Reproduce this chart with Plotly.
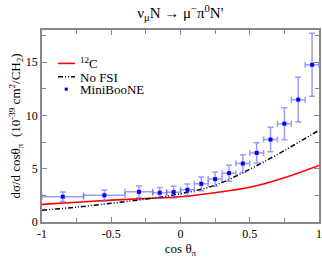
import plotly.graph_objects as go

# MiniBooNE data
data_x = [-0.85, -0.55, -0.3, -0.15, -0.05, 0.05, 0.15, 0.25, 0.35, 0.45, 0.55, 0.65, 0.75, 0.85, 0.95]
data_xerr = [0.15, 0.15, 0.1, 0.05, 0.05, 0.05, 0.05, 0.05, 0.05, 0.05, 0.05, 0.05, 0.05, 0.05, 0.05]
data_y = [2.37, 2.50, 2.83, 2.74, 2.80, 3.02, 3.58, 4.02, 4.58, 5.48, 6.48, 7.73, 9.22, 11.47, 14.74]
data_yerr = [0.45, 0.5, 0.55, 0.5, 0.55, 0.55, 0.65, 0.67, 0.75, 0.83, 0.95, 1.15, 1.5, 2.1, 2.95]

# Model curves
curve_x = [-1.0, -0.75, -0.5, -0.25, 0.0, 0.25, 0.5, 0.75, 1.0]
c12_y = [1.65, 1.85, 2.05, 2.2, 2.37, 2.75, 3.25, 4.15, 5.3]
nofsi_y = [1.1, 1.4, 1.75, 2.15, 2.65, 3.45, 4.95, 6.7, 8.6]

legend_labels = ["<sup>12</sup>C", "No FSI", "MiniBooNE"]

serif = "Liberation Serif"
err_col = "rgba(90,90,255,0.6)"
dashdot = "5px,2px,1px,2px,1px,2px"

fig = go.Figure()
fig.add_trace(go.Scatter(x=curve_x, y=c12_y, mode="lines", name=legend_labels[0],
                         line=dict(color="red", width=1.6, shape="spline")))
fig.add_trace(go.Scatter(x=curve_x, y=nofsi_y, mode="lines", name=legend_labels[1],
                         line=dict(color="black", width=1.5, shape="spline", dash=dashdot)))
fig.add_trace(go.Scatter(x=data_x, y=data_y, mode="markers", name=legend_labels[2],
                         marker=dict(color="blue", size=4, symbol="square"),
                         error_y=dict(type="data", array=data_yerr, color=err_col, thickness=1.5, width=3),
                         error_x=dict(type="data", array=data_xerr, color=err_col, thickness=1.5, width=3)))

# Manual legend (compact spacing like the reference)
leg_y = [0.826, 0.756, 0.692]
fig.add_shape(type="line", xref="paper", yref="paper", x0=0.058, x1=0.119, y0=leg_y[0], y1=leg_y[0],
              line=dict(color="red", width=1.6))
fig.add_shape(type="line", xref="paper", yref="paper", x0=0.058, x1=0.119, y0=leg_y[1], y1=leg_y[1],
              line=dict(color="black", width=1.5, dash=dashdot))
fig.add_shape(type="rect", xref="paper", yref="paper", x0=0.082, x1=0.093, y0=leg_y[2] - 0.008, y1=leg_y[2] + 0.008,
              line=dict(width=0), fillcolor="blue")
for lab, yy in zip(legend_labels, leg_y):
    fig.add_annotation(text=lab, xref="paper", yref="paper", x=0.134, y=yy, xanchor="left", yanchor="middle",
                       showarrow=False, height=12, borderpad=0,
                       font=dict(family=serif, size=13, color="black"))

axis_common = dict(showline=True, linecolor="#888888", linewidth=1.5, mirror="ticks",
                   ticks="inside", ticklen=5, tickcolor="#888888", showgrid=False, zeroline=False,
                   automargin=False,
                   tickfont=dict(family=serif, size=12, color="black"))

fig.update_xaxes(range=[-1, 1], tickvals=[-1, -0.5, 0, 0.5, 1],
                 ticktext=["-1", "-0.5", "0", "0.5", "1"],
                 minor=dict(dtick=0.25, ticks="inside", ticklen=4, tickcolor="#888888"),
                 title=dict(text="cos θ<sub>π</sub>", font=dict(family=serif, size=13, color="black"), standoff=2),
                 **axis_common)
fig.update_yaxes(range=[0, 18], tickvals=[0, 5, 10, 15],
                 minor=dict(dtick=2.5, ticks="inside", ticklen=4, tickcolor="#888888"),
                 title=dict(text="dσ/d cosθ<sub>π</sub>  (10<sup>-39</sup> cm<sup>2</sup>/CH<sub>2</sub>)",
                            font=dict(family=serif, size=13, color="black"), standoff=2),
                 **axis_common)

fig.update_layout(
    width=322, height=259,
    margin=dict(l=42, r=3, t=30, b=37, autoexpand=False),
    paper_bgcolor="white", plot_bgcolor="white",
    title=dict(text="ν<sub>μ</sub>N → μ<sup>−</sup>π<sup>0</sup>N'", x=0.56, xanchor="center",
               y=0.95, yanchor="middle", font=dict(family=serif, size=15, color="black")),
    showlegend=False,
)

fig.write_html("out.html", config={"displayModeBar": False},
               post_script="document.body.style.margin='0';document.body.style.padding='0';")
